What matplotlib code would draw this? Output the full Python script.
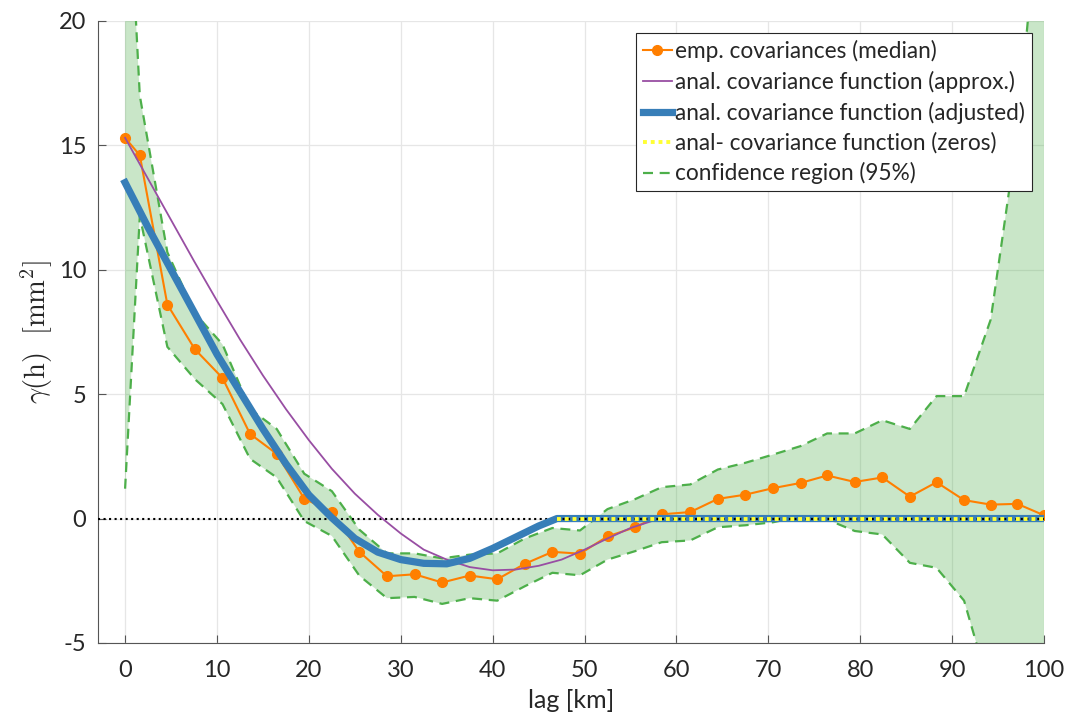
import numpy as np
import matplotlib
matplotlib.use("Agg")
import matplotlib.pyplot as plt

plt.rcParams['font.family'] = ['Lato', 'DejaVu Sans']
plt.rcParams['axes.unicode_minus'] = False
plt.rcParams['mathtext.fontset'] = 'cm'

# empirical covariances (median) per lag bin
emp_lag = [0, 1.6, 4.6, 7.6, 10.6, 13.6, 16.5, 19.5, 22.5, 25.5, 28.5, 31.5, 34.5,
           37.5, 40.5, 43.5, 46.5, 49.5, 52.5, 55.5, 58.4, 61.5, 64.5, 67.5, 70.5,
           73.5, 76.4, 79.4, 82.4, 85.4, 88.3, 91.3, 94.2, 97.1, 100]
emp_cov = [15.3, 14.6, 8.6, 6.8, 5.65, 3.4, 2.6, 0.8, 0.27, -1.34, -2.32, -2.24, -2.57,
           -2.29, -2.44, -1.82, -1.34, -1.41, -0.72, -0.35, 0.17, 0.26, 0.79, 0.96, 1.22,
           1.43, 1.73, 1.47, 1.65, 0.88, 1.46, 0.74, 0.56, 0.59, 0.13]

# 95% confidence region (same lags)
conf_upper = [28.5, 17.0, 10.7, 8.25, 7.0, 4.4, 3.6, 1.8, 1.1, -0.45, -1.4, -1.4, -1.6,
              -1.45, -1.4, -0.8, -0.38, -0.48, 0.38, 0.78, 1.26, 1.37, 1.97, 2.24, 2.57,
              2.91, 3.42, 3.42, 3.95, 3.6, 4.92, 4.92, 8.0, 15.5, 27.0]
conf_lower = [1.2, 12.15, 6.9, 5.6, 4.6, 2.4, 1.65, -0.1, -0.7, -2.3, -3.2, -3.15, -3.43,
              -3.2, -3.3, -2.72, -2.18, -2.28, -1.65, -1.31, -0.95, -0.88, -0.35, -0.27, -0.15,
              0.08, -0.04, -0.5, -0.64, -1.78, -1.98, -3.3, -7.0, -14.0, -24.0]

# analytical covariance function (approx.)
approx_lag = [0, 2.5, 5, 7.5, 10, 12.5, 15, 17.5, 20, 22.5, 25, 27.5, 30, 32.5, 35,
              37.5, 40, 42.5, 45, 47.5, 50, 52.5, 55, 57.5, 59, 100]
approx_cov = [15.3, 13.65, 12.0, 10.35, 8.75, 7.2, 5.75, 4.4, 3.15, 2.0, 1.0, 0.15, -0.6,
              -1.25, -1.65, -1.95, -2.08, -2.05, -1.9, -1.65, -1.25, -0.8, -0.38, -0.08, 0, 0]

# analytical covariance function (adjusted)
adj_lag = [0, 2.5, 5, 7.5, 10, 12.5, 15, 17.5, 20, 22.5, 25, 27.5, 30, 32.5, 35,
           37.5, 40, 42.5, 45, 47, 100]
adj_cov = [13.5, 11.7, 10.0, 8.3, 6.6, 5.1, 3.6, 2.2, 0.95, 0.03, -0.8, -1.35, -1.65,
           -1.8, -1.82, -1.6, -1.2, -0.75, -0.3, 0.0, 0.0]

# zeros part
zero_lag = [47, 100]
zero_cov = [0, 0]

c_orange = '#ff7f00'
c_purple = '#984ea3'
c_blue = '#377eb8'
c_green = '#4daf4a'
c_yellow = '#ffff33'

fig = plt.figure(figsize=(10.74, 7.2), dpi=100)
ax = fig.add_axes([0.0908, 0.107, 0.8813, 0.864])

ax.fill_between(emp_lag, conf_lower, conf_upper, color=c_green, alpha=0.3,
                linewidth=0, zorder=1)
ax.plot(emp_lag, conf_upper, color=c_green, ls=(0, (4.5, 3)), lw=1.6, zorder=2)
ax.plot(emp_lag, conf_lower, color=c_green, ls=(0, (4.5, 3)), lw=1.6, zorder=2)

ax.axhline(0, color='k', ls=':', lw=1.5, zorder=3)

l_emp, = ax.plot(emp_lag, emp_cov, color=c_orange, lw=1.5, marker='o',
                 markersize=7, zorder=4)
l_apx, = ax.plot(approx_lag, approx_cov, color=c_purple, lw=1.3, zorder=4)
l_adj, = ax.plot(adj_lag, adj_cov, color=c_blue, lw=5.2, zorder=5)
ax.plot(zero_lag, zero_cov, color='k', ls=':', lw=1.5, zorder=6)
l_zero, = ax.plot(zero_lag, zero_cov, color=c_yellow, ls=(0, (1, 1)), lw=2.8, zorder=7)
l_conf, = ax.plot([], [], color=c_green, ls=(0, (4.5, 3)), lw=1.6)

ax.set_xlim(-3, 100)
ax.set_ylim(-5, 20)
ax.set_xticks(np.arange(0, 101, 10))
ax.set_yticks(np.arange(-5, 21, 5))
ax.tick_params(direction='in', length=6, width=0.8, color='#555555',
               labelsize=17, labelcolor='#262626')
ax.tick_params(axis='x', pad=12)
ax.tick_params(axis='y', pad=8)
ax.grid(True, color='#e6e6e6', lw=0.9)
ax.set_axisbelow(True)
for s in ['top', 'right']:
    ax.spines[s].set_visible(False)
for s in ['left', 'bottom']:
    ax.spines[s].set_color('#555555')
    ax.spines[s].set_linewidth(0.8)

ax.set_xlabel('lag [km]', fontsize=18, color='#262626', labelpad=6)
ax.set_ylabel(r'$\gamma(\mathrm{h})\ \ [\mathrm{mm}^2]$', fontsize=20.5, color='#262626',
              labelpad=3)

leg = ax.legend([l_emp, l_apx, l_adj, l_zero, l_conf],
                ['emp. covariances (median)', 'anal. covariance function (approx.)',
                 'anal. covariance function (adjusted)', 'anal- covariance function (zeros)',
                 'confidence region (95%)'],
                loc='upper right', fontsize=16.3, frameon=True, fancybox=False,
                handlelength=1.25, handletextpad=0.15, borderpad=0.3,
                labelspacing=0.38, borderaxespad=0.55, framealpha=1,
                bbox_to_anchor=(1.0, 1.0))
leg.get_frame().set_edgecolor('#262626')
leg.get_frame().set_linewidth(0.8)
for t in leg.get_texts():
    t.set_color('#262626')
leg.set_zorder(10)

fig.savefig('out.png', dpi=100)
